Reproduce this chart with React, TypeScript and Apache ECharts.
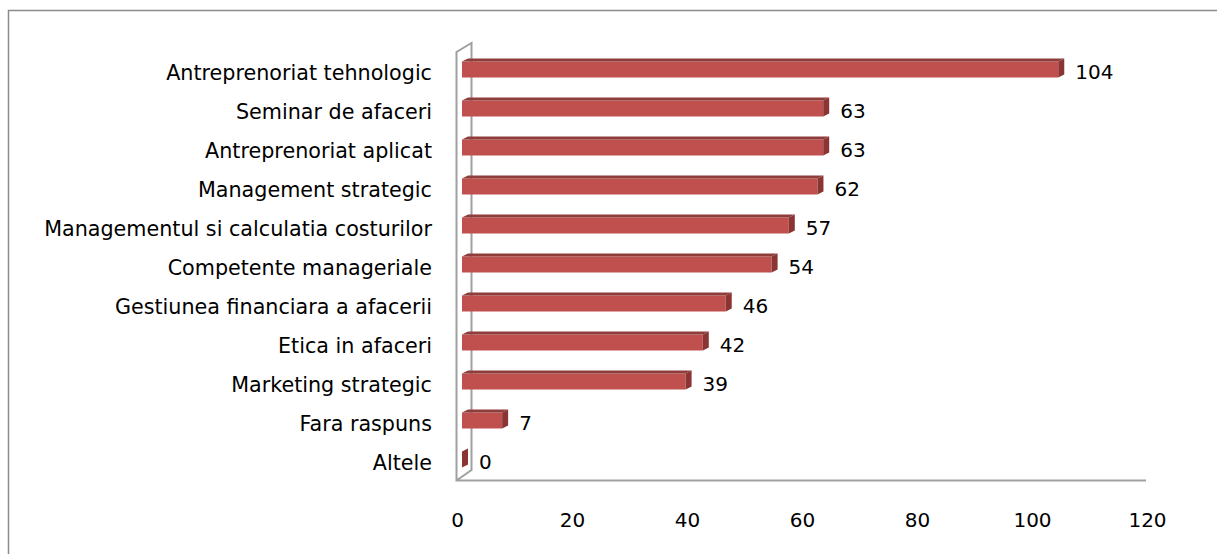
import React, { useEffect, useRef } from "react";
import * as echarts from "echarts";

const categories = [
  "Antreprenoriat tehnologic",
  "Seminar de afaceri",
  "Antreprenoriat aplicat",
  "Management strategic",
  "Managementul si calculatia costurilor",
  "Competente manageriale",
  "Gestiunea financiara a afacerii",
  "Etica in afaceri",
  "Marketing strategic",
  "Fara raspuns",
  "Altele",
];
const values = [104, 63, 63, 62, 57, 54, 46, 42, 39, 7, 0];
const xTicks = [0, 20, 40, 60, 80, 100, 120];

const FONT = "'DejaVu Sans', sans-serif";
const FS = 20;
const CAT_FS = 20.7;

export default function App() {
  const ref = useRef<HTMLDivElement>(null);
  useEffect(() => {
    document.body.style.margin = "0";
    const chart = echarts.init(ref.current!, null, { renderer: "svg" });
    const wallColor = "#a0a0a0";
    chart.setOption({
      animation: false,
      backgroundColor: "#ffffff",
      grid: [
        { left: 457.5, top: 53.5, width: 690, height: 429, containLabel: false },
        { left: 462, top: 48.5, width: 688, height: 429, containLabel: false },
      ],
      xAxis: [
        {
          type: "value",
          gridIndex: 0,
          min: xTicks[0],
          max: xTicks[xTicks.length - 1],
          interval: 20,
          axisLine: { show: false },
          axisTick: { show: false },
          splitLine: { show: false },
          axisLabel: {
            margin: 27,
            fontFamily: FONT,
            fontSize: FS,
            color: "#000",
          },
        },
        {
          type: "value",
          gridIndex: 1,
          min: 0,
          max: 120,
          show: false,
        },
      ],
      yAxis: [
        {
          type: "category",
          gridIndex: 0,
          data: categories,
          inverse: true,
          axisLine: { show: false },
          axisTick: { show: false },
          axisLabel: {
            margin: 25.5,
            fontFamily: FONT,
            fontSize: CAT_FS,
            color: "#000",
          },
        },
        {
          type: "category",
          gridIndex: 1,
          data: categories,
          inverse: true,
          show: false,
        },
      ],
      graphic: [
        {
          type: "polyline",
          shape: { points: [[8.5, 560], [8.5, 10.5], [1220, 10.5]] },
          style: { stroke: "#8c8c8c", lineWidth: 1.5, fill: "none" },
          silent: true,
        },
        {
          type: "polyline",
          shape: { points: [[1146, 480.5], [456.5, 480.5], [456.5, 52], [471.5, 43], [471.5, 470], [456.5, 480.5]] },
          style: { stroke: wallColor, lineWidth: 2, fill: "none" },
          silent: true,
        },
      ],
      series: [
        {
          type: "custom",
          xAxisIndex: 1,
          yAxisIndex: 1,
          data: values.map((v, i) => [v, i]),
          renderItem: (params: any, api: any) => {
            const v = api.value(0);
            const c = api.value(1);
            const p0 = api.coord([0, c]);
            const p1 = api.coord([v, c]);
            const h = 19;
            const dx = 6;
            const dy = 3;
            const top = p0[1] - h / 2;
            const bottom = p0[1] + h / 2;
            const x0 = p0[0];
            const x1 = p1[0];
            const children: any[] = [];
            if (x1 - x0 > 0.5) {
              children.push({
                type: "rect",
                shape: { x: x0, y: top + dy, width: x1 - x0, height: h - dy },
                style: { fill: "#c0504d" },
              });
              children.push({
                type: "polygon",
                shape: { points: [[x0, top + dy], [x0 + dx, top], [x1 + dx, top], [x1, top + dy]] },
                style: { fill: "#8f3d3b" },
              });
            }
            children.push({
              type: "polygon",
              shape: { points: [[x1, top + dy], [x1 + dx, top], [x1 + dx, bottom - dy], [x1, bottom]] },
              style: { fill: "#8a3533" },
            });
            children.push({
              type: "text",
              style: {
                text: String(v),
                x: x1 + dx + 11,
                y: p0[1] + 4,
                verticalAlign: "middle",
                align: "left",
                fontFamily: FONT,
                fontSize: FS,
                fill: "#000",
              },
            });
            return { type: "group", children };
          },
        },
      ],
    });
    return () => chart.dispose();
  }, []);
  return <div ref={ref} style={{ width: 1217, height: 554 }} />;
}
